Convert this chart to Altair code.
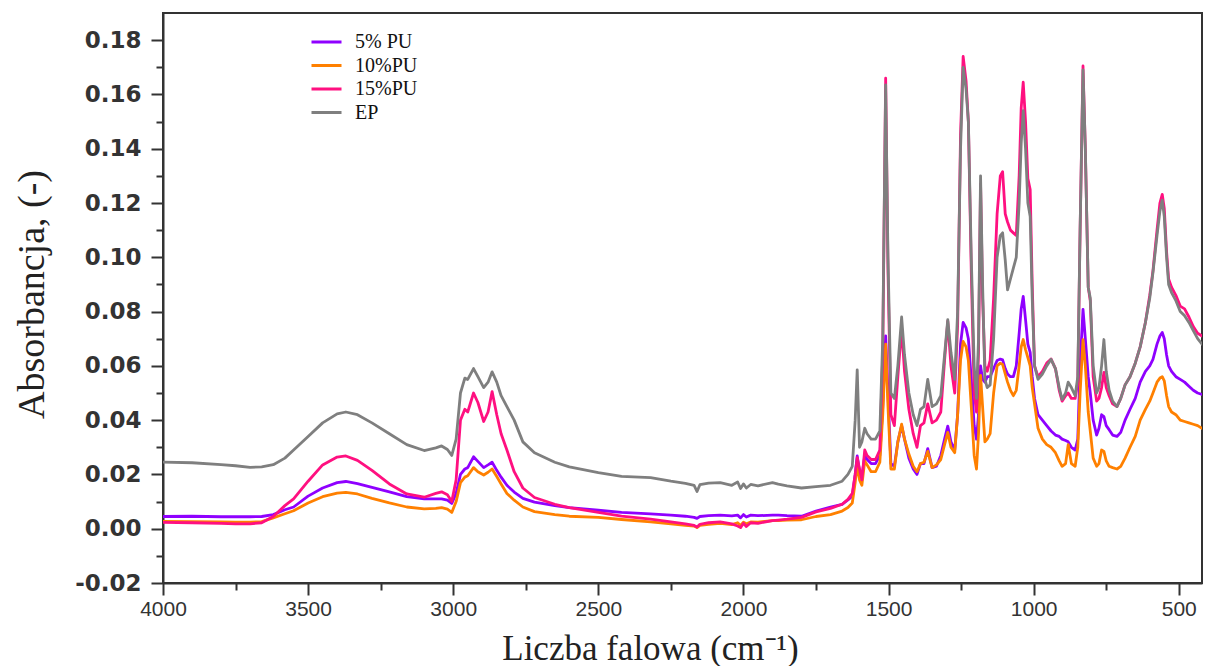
import altair as alt
import pandas as pd

# Wavenumbers (cm-1), descending
wavenumber = [
    4000, 3900, 3800, 3750, 3700, 3660, 3620, 3580, 3550, 3500,
    3450, 3400, 3370, 3330, 3280, 3220, 3160, 3100, 3060, 3040,
    3020, 3005, 2990, 2975, 2960, 2950, 2930, 2915, 2895, 2880,
    2866, 2850, 2835, 2815, 2790, 2760, 2720, 2650, 2600, 2500,
    2420, 2320, 2250, 2200, 2170, 2160, 2150, 2120, 2080, 2040,
    2020, 2010, 2000, 1990, 1975, 1950, 1900, 1880, 1850, 1800,
    1750, 1700, 1660, 1640, 1625, 1615, 1608, 1600, 1592, 1582,
    1574, 1560, 1545, 1530, 1520, 1510, 1502, 1492, 1480, 1468,
    1455, 1445, 1430, 1415, 1402, 1390, 1378, 1365, 1350, 1335,
    1320, 1307, 1296, 1285, 1272, 1262, 1252, 1243, 1233, 1225,
    1215, 1205, 1197, 1190, 1183, 1176, 1168, 1160, 1150, 1138,
    1126, 1115, 1107, 1098, 1090, 1080, 1070, 1060, 1050, 1043,
    1036, 1028, 1020, 1012, 1005, 997, 985, 970, 955, 940,
    925, 912, 902, 890, 881, 870, 857, 848, 840, 830,
    822, 812, 805, 795, 783, 775, 766, 758, 750, 740,
    728, 713, 700, 685, 668, 650, 633, 615, 600, 589,
    575, 565, 557, 550, 542, 535, 525, 510, 495, 480,
    465, 450, 435, 420, 400,
]

ep = [
    .0245, .0243, .0236, .0232, .0226, .0228, .0236, .0260, .0290, .0340,
    .0390, .0423, .0430, .0420, .0390, .0350, .0310, .0288, .0298, .0305,
    .0292, .0270, .0330, .0500, .0555, .0550, .0590, .0560, .0520, .0540,
    .0578, .0540, .0490, .0450, .0400, .0320, .0280, .0245, .0228, .0207,
    .0193, .0188, .0175, .0167, .0160, .0137, .0162, .0168, .0170, .0160,
    .0172, .0148, .0165, .0150, .0163, .0158, .0170, .0164, .0158, .0150,
    .0155, .0160, .0175, .0200, .0230, .0400, .0585, .0300, .0320, .0370,
    .0350, .0330, .0330, .0360, .0700, .1635, .1000, .0500, .0480, .0600,
    .0780, .0640, .0500, .0420, .0380, .0440, .0450, .0550, .0450, .0460,
    .0490, .0640, .0770, .0650, .0550, .0800, .1400, .1700, .1620, .1500,
    .1000, .0600, .0480, .0700, .1300, .0900, .0550, .0520, .0530, .0700,
    .1000, .1080, .1090, .0990, .0880, .0920, .0960, .1000, .1200, .1420,
    .1540, .1400, .1200, .1150, .0850, .0600, .0550, .0570, .0600, .0624,
    .0590, .0520, .0476, .0500, .0540, .0520, .0490, .0560, .1100, .1690,
    .1400, .0890, .0850, .0600, .0500, .0520, .0600, .0697, .0580, .0510,
    .0470, .0450, .0480, .0530, .0560, .0610, .0670, .0760, .0850, .0944,
    .1080, .1170, .1210, .1150, .1000, .0900, .0870, .0840, .0800, .0785,
    .0760, .0730, .0700, .0680, .0665,
]

pu15 = [
    .0023, .0022, .0020, .0018, .0018, .0022, .0045, .0085, .0110, .0175,
    .0235, .0264, .0268, .0252, .0215, .0165, .0128, .0116, .0130, .0136,
    .0125, .0100, .0180, .0400, .0440, .0430, .0500, .0465, .0395, .0430,
    .0505, .0420, .0350, .0290, .0210, .0150, .0115, .0090, .0078, .0060,
    .0046, .0035, .0025, .0018, .0012, .0006, .0016, .0022, .0025, .0018,
    .0010, .0004, .0020, .0008, .0022, .0020, .0030, .0032, .0035, .0042,
    .0062, .0075, .0090, .0108, .0130, .0200, .0262, .0220, .0180, .0290,
    .0270, .0255, .0255, .0290, .0650, .1660, .0950, .0420, .0380, .0560,
    .0740, .0580, .0440, .0350, .0300, .0380, .0390, .0460, .0390, .0400,
    .0430, .0620, .0765, .0600, .0500, .0750, .1450, .1740, .1650, .1500,
    .0950, .0500, .0430, .0650, .1270, .0850, .0600, .0580, .0620, .0850,
    .1160, .1300, .1315, .1160, .1130, .1100, .1090, .1080, .1300, .1550,
    .1645, .1500, .1290, .1250, .0900, .0600, .0560, .0580, .0610, .0625,
    .0590, .0510, .0470, .0490, .0500, .0480, .0480, .0540, .1100, .1705,
    .1400, .0890, .0840, .0560, .0470, .0480, .0520, .0576, .0520, .0490,
    .0460, .0450, .0480, .0530, .0560, .0610, .0670, .0760, .0860, .0950,
    .1100, .1200, .1232, .1180, .1020, .0920, .0890, .0860, .0820, .0810,
    .0780, .0745, .0720, .0710, .0700,
]

pu5 = [
    .0045, .0046, .0044, .0044, .0044, .0045, .0052, .0070, .0080, .0120,
    .0150, .0170, .0174, .0166, .0152, .0136, .0118, .0110, .0110, .0110,
    .0105, .0093, .0130, .0200, .0220, .0225, .0265, .0248, .0225, .0235,
    .0245, .0215, .0190, .0160, .0135, .0112, .0098, .0085, .0078, .0068,
    .0060, .0055, .0050, .0046, .0042, .0038, .0045, .0048, .0050, .0047,
    .0050, .0040, .0052, .0043, .0050, .0048, .0050, .0050, .0048, .0046,
    .0065, .0080, .0090, .0106, .0120, .0200, .0268, .0210, .0190, .0270,
    .0255, .0240, .0240, .0270, .0450, .0710, .0500, .0240, .0230, .0320,
    .0380, .0330, .0260, .0220, .0200, .0240, .0240, .0295, .0225, .0230,
    .0270, .0330, .0378, .0320, .0290, .0420, .0680, .0760, .0740, .0700,
    .0550, .0380, .0330, .0420, .0600, .0550, .0540, .0560, .0560, .0590,
    .0620, .0625, .0622, .0590, .0570, .0560, .0560, .0600, .0720, .0810,
    .0856, .0770, .0680, .0650, .0560, .0480, .0420, .0400, .0380, .0360,
    .0345, .0340, .0330, .0325, .0320, .0300, .0290, .0330, .0600, .0808,
    .0700, .0560, .0500, .0400, .0345, .0370, .0420, .0413, .0380, .0365,
    .0345, .0340, .0355, .0400, .0440, .0480, .0540, .0580, .0600, .0624,
    .0680, .0710, .0723, .0700, .0640, .0600, .0580, .0560, .0550, .0540,
    .0525, .0510, .0500, .0495, .0480,
]

pu10 = [
    .0027, .0026, .0025, .0024, .0024, .0026, .0040, .0055, .0066, .0095,
    .0118, .0131, .0134, .0128, .0112, .0095, .0080, .0073, .0075, .0078,
    .0072, .0060, .0100, .0170, .0190, .0195, .0225, .0210, .0198, .0208,
    .0220, .0192, .0165, .0130, .0105, .0080, .0063, .0052, .0046, .0042,
    .0034, .0025, .0018, .0012, .0010, .0004, .0012, .0016, .0020, .0015,
    .0022, .0012, .0024, .0018, .0025, .0024, .0030, .0030, .0032, .0033,
    .0045, .0052, .0065, .0078, .0095, .0170, .0235, .0180, .0160, .0250,
    .0235, .0210, .0210, .0245, .0420, .0680, .0450, .0220, .0220, .0320,
    .0385, .0330, .0275, .0230, .0210, .0240, .0245, .0285, .0225, .0235,
    .0255, .0310, .0355, .0300, .0280, .0420, .0620, .0690, .0670, .0620,
    .0450, .0270, .0220, .0350, .0565, .0450, .0320, .0330, .0350, .0500,
    .0600, .0610, .0605, .0570, .0540, .0510, .0490, .0510, .0600, .0670,
    .0697, .0660, .0630, .0600, .0520, .0460, .0370, .0330, .0310, .0300,
    .0280, .0250, .0230, .0240, .0310, .0240, .0230, .0300, .0500, .0697,
    .0600, .0430, .0360, .0260, .0230, .0240, .0290, .0285, .0250, .0230,
    .0225, .0220, .0230, .0260, .0300, .0340, .0400, .0440, .0470, .0500,
    .0540, .0555, .0560, .0545, .0490, .0450, .0430, .0420, .0400, .0395,
    .0390, .0385, .0380, .0370, .0365,
]

series_names = ["5% PU", "10%PU", "15%PU", "EP"]
series_colors = ["#8F00FF", "#FF8000", "#FF1080", "#7F7F7F"]
series_values = [pu5, pu10, pu15, ep]

x_tick_values = [4000, 3750, 3500, 3250, 3000, 2750, 2500, 2250, 2000,
                 1750, 1500, 1250, 1000, 750, 500]
y_tick_values = [-0.02, -0.01, 0.00, 0.01, 0.02, 0.03, 0.04, 0.05, 0.06,
                 0.07, 0.08, 0.09, 0.10, 0.11, 0.12, 0.13, 0.14, 0.15,
                 0.16, 0.17, 0.18]

frames = []
for name, vals in zip(series_names, series_values):
    frames.append(pd.DataFrame({"wn": wavenumber, "value": vals, "series": name}))
df = pd.concat(frames, ignore_index=True)

x_enc = alt.X(
    "wn:Q",
    scale=alt.Scale(domain=[420, 4000], reverse=True, nice=False, zero=False),
    axis=alt.Axis(
        values=x_tick_values,
        format="d",
        labelExpr="datum.value % 500 === 0 ? datum.label : ''",
        tickSize={"condition": {"test": "datum.value % 500 === 0", "value": 12}, "value": 7},
        labelFont="Liberation Sans",
        labelFontSize=21,
        labelColor="#333333",
        labelPadding=3,
        labelFlush=False,
        labelOverlap=False,
        grid=False,
        title="Liczba falowa (cm⁻¹)",
        titleFont="Liberation Serif",
        titleFontSize=35,
        titleFontWeight="normal",
        titleColor="#222222",
        titleX=487,
        titleY=76,
        titleBaseline="alphabetic",
        titleAlign="center",
    ),
)

y_enc = alt.Y(
    "value:Q",
    scale=alt.Scale(domain=[-0.02, 0.19], nice=False, zero=False),
    axis=alt.Axis(
        values=y_tick_values,
        format=".2f",
        labelExpr="abs(round(datum.value * 100)) % 2 === 0 ? replace(datum.label, '−', '-') : ''",
        tickSize={"condition": {"test": "abs(round(datum.value * 100)) % 2 === 0", "value": 12},
                  "value": 7},
        labelFont="DejaVu Sans",
        labelFontWeight="bold",
        labelFontSize=23,
        labelColor="#333333",
        labelPadding=10,
        labelOverlap=False,
        grid=False,
        title="Absorbancja, (-)",
        titleFont="Liberation Serif",
        titleFontSize=38,
        titleFontWeight="normal",
        titleColor="#222222",
        titleX=-120,
        titleY=281,
        titleAngle=270,
        titleBaseline="alphabetic",
        titleAlign="center",
    ),
)

color_enc = alt.Color(
    "series:N",
    scale=alt.Scale(domain=series_names, range=series_colors),
    legend=alt.Legend(
        title=None,
        orient="none",
        legendX=147,
        legendY=19,
        symbolType="stroke",
        symbolSize=900,
        symbolStrokeWidth=3,
        clipHeight=20,
        labelFont="Liberation Serif",
        labelFontSize=20,
        labelColor="#111111",
        labelOffset=12,
        rowPadding=3.5,
        padding=0,
    ),
)

layers = [
    alt.Chart()
    .mark_line(strokeWidth=2.8, strokeJoin="round", clip=True)
    .encode(x=x_enc, y=y_enc, color=color_enc)
    .transform_filter(alt.datum.series == name)
    for name in series_names
]

chart = (
    alt.layer(*layers, data=df)
    .properties(
        width=1039,
        height=570,
        autosize=alt.AutoSizeParams(type="none"),
        padding={"left": 155, "top": 5, "right": 1, "bottom": 83},
    )
    .configure_view(stroke="#333333", strokeWidth=2)
    .configure_axis(domainColor="#333333", domainWidth=2, tickColor="#333333", tickWidth=2)
)

chart.save("out.html", embed_options={"renderer": "svg", "actions": False})
